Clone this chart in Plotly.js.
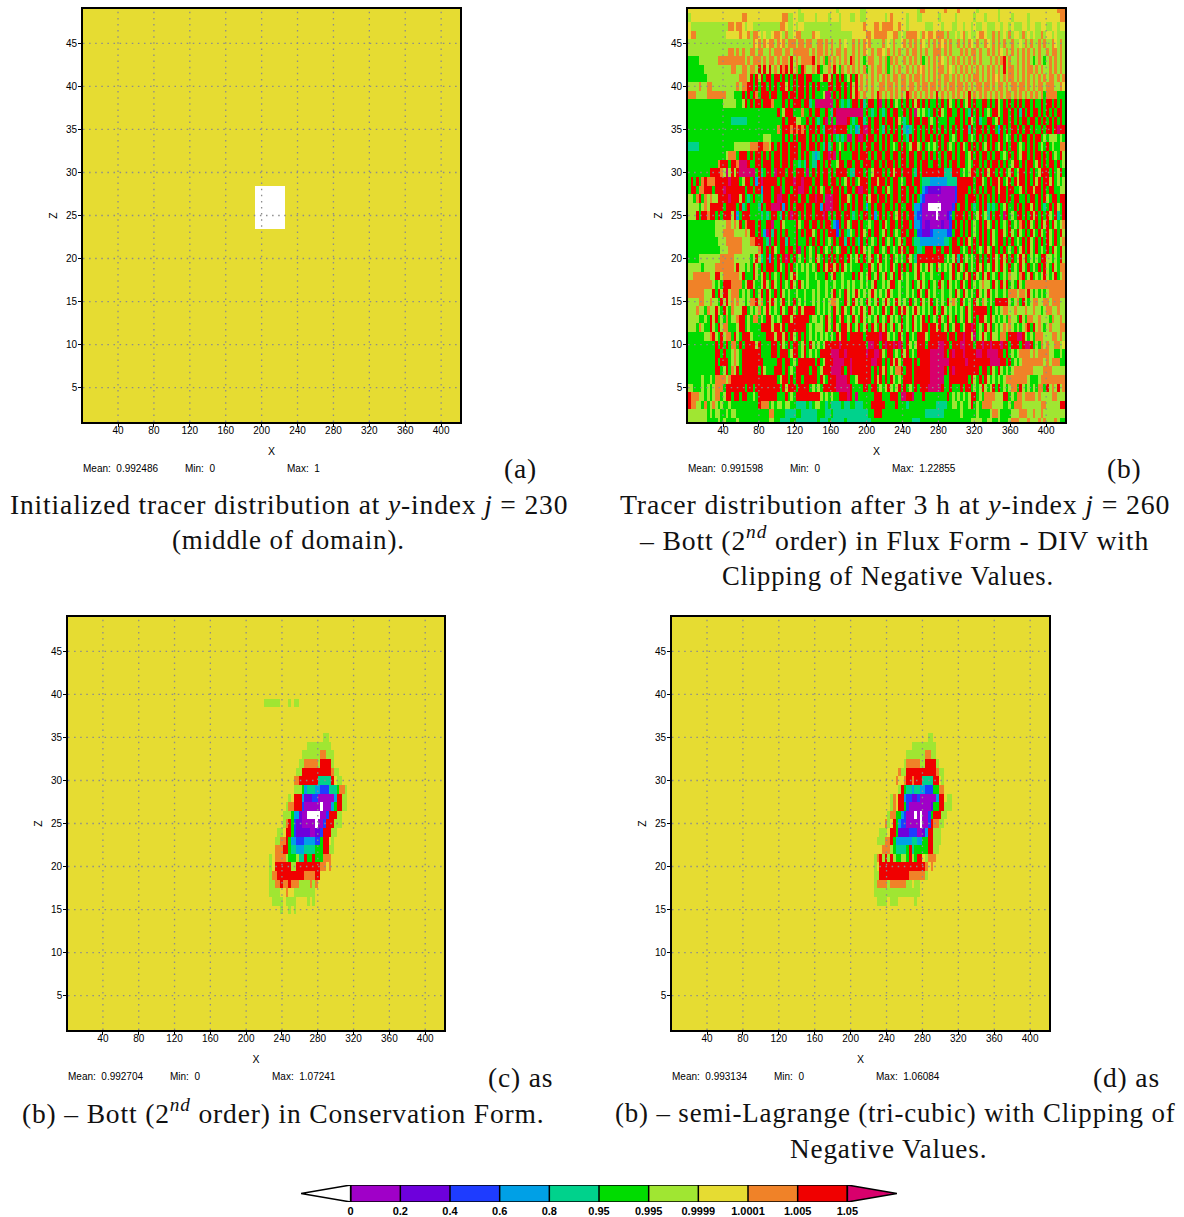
<!DOCTYPE html>
<html><head><meta charset="utf-8">
<script src="https://cdn.plot.ly/plotly-3.0.1.min.js"></script>
<style>html,body{margin:0;padding:0;background:#fff}
text[style*="Liberation Serif"]{letter-spacing:0.85px}</style></head>
<body><div id="chart" style="width:1184px;height:1217px"></div>
<script>
const categoryLetters = ['w','a','b','c','d','e','f','g','h','i','j','k'];
const categoryColors = ['#ffffff','#a000c8','#6e00dc','#1e3cff','#00a0e6','#00d28c','#00dc00','#a0e632','#e6dc32','#f08228','#f00000','#d8006c'];
const colorbarTickLabels = ['0','0.2','0.4','0.6','0.8','0.95','0.995','0.9999','1.0001','1.005','1.05'];
const colorbarCells = [1,2,3,4,5,6,7,8,9,10];
const xTickVals = [40,80,120,160,200,240,280,320,360,400];
const zTickVals = [5,10,15,20,25,30,35,40,45];

const panelAWhiteZ = [24,25,26,27,28];
const panelAWhiteRows = ['wwwww wwwww w','wwwww wwwww w','wwwww wwwww w','wwwww wwwww w','wwwww wwwww w'];

// panel (b): top row is z=49, each letter 3 x-units wide
const panelBRows = [
"hhhhhhhhhh hhhhhhhhhh hhhhhhhhhh hhhhhhhhhh hghhhhhhhh hhhhhghhhh hhhhgghhhh hhhhhhhhhh hhhhhgiihh hhhhhihhhh ihhhhhhghh hhhhhghhhh hhhhhhhhhh hhhhhhhiii",
"ghhhhhhhhh hhhhhhhhhh iihhhhhhhh hhhhhiigghh gghhhhghhh hghhhghhhg ghhgghhhhh hhghihhhhh ghhhgghhhh hhghhhhhgh hhhhhghhhg hhhhghhhhg hhhhhghhhh hhhhhhhiii",
"hgggggggggg ggggiihiihg hhggggggg gggiihgghg hhgggggggg gggggghhhh hhhhihhhii hiiiihhihh ghhhhhhggg hhhghhhggh hghhghgghh ggghhghhgh ggghhghhgg hhgghhghhh",
"hiigggggggg ggghhhhhih higiihghg ghiihgiggh iiggggihhg ggggggggg gghhhhhiih iiiiihhiig hgiiiihgih iihiiigigg hghighgghi ihggigighg ighhgighgh ggighhghgg",
"gggggggggg gggggggggg ggggihigih iigihigiii giigiiggii gigiggighg gigigihigg ggighgiggh igigigihgi gigihigigg igigihgigg ihgigigigg igghgigigg igiggihgig",
"gggggggggg gggggiigig iggiigiigg igiiigiigi iiiiigigii gigigiigig gigigihgig iihgigigig gigiigigig giiigigigg gigigiigig gigigihgig igigigigig iggigiigig",
"ffffgggggg giiiiiiiii igigiiigig iigigiigjg igiiiijgig ifigigigig jigigfgiig gigifigigg igigigifgi gigihgigig igigigigig ggigigijgi ggigigigfg igfgigigig",
"ffffffggggg gggggiiggi igiigjgjgj gigjijgjgi fjiggigjfg gigjgfigig igigifgigi igifgigigg igigihigig igiigihgig igigigigig igigigjgii gigigiigig iggigigigf",
"fffffffggg gggggggggi iigjfjgjfj jfjjfjfjfj fjjfjjfffg jjgjfjfjfg jfjgigigig igigigiigi igigiigigi gigigiigig igigigiigi gigihigigi igigigigig igigiigigi",
"ggggiggiig ggggggggig iijjfjfjjf jfjfjjgjfj fjjfjfjfjf ffjjfjjfjf jgjgigigig giigiigigi igiigigiig iigigigiig iigigigiig iigigiigig iigiigigig iigiiiggih",
"iiiggggiii iiiigggfff jfjfjifjjj fjjffjjfjj fjjfjfjfff gkkfjfjfjf jgjigiggig jigigigigi gjigigigig igjgigigig igigjgigig igigigigii gigigigigi gifiiiifff",
"ffffffffff fffgggggff gjfjfjjfjj jifffjfjfj jjfjjefkkk kkkkfjfefe fjjfjefjjf jkfjfjfgfj fjfjgjfjfj ffjfjfjgfj fjfgjfjffj jfjfjgfjfj fjfjfjjfjf fjfjjfjfjf",
"ffffffffff ffffffffff ffffffffff fffjfgjjjf ffiffjfjjf fjfejkkkkk kkkkkfjfef jfefjfjjff jfjfkgfgfe fjfjgfjjff jfjfejfjfj fgfjjgfjjf jfjejfjfjj fjfjfjfjjf",
"ffffffffff ffffffeeee eeffffffff fffffjfjjj ggffjfjfef jkfkfkkkkj fefjjefjfj jfjfjjfjgf efjfjjfjjf gfjfffjffj jfjfjgfjef fjjfgjfjjf jfjfjjfjjf jfjfjfjfjf",
"ffffffffff ffffffffff ffffffffff fffifjjjij ijijfjjfjf ejjjkjjjjf efdejkkjfj jfejfjfjfj edefjfjfjf jfjfjfjfjf jfjjejfjjf jfjjfdjfjf jjfjfjjfjf fjfjjfjkjj",
"ffffffffff ffffffffff ffffffffgg gffffjfjfj fjjjfjfjfj fjfjfefefk kfjkkjfjjf jfjfjfjjfj fejfjfjfjj fjfjfjjfgf jfjjfgfjfj fjfjjfjfgf jfjfjjfjfj jfgfgggfgf",
"eeeeffffff fffffffggg gggiiijjii gjfjfjjfjj jfjjfjjfjf ejefjfgfjf jfjfjfjjfj jfjfjfgfjf jfgjjgfjfg fgfjfjfgfj fjgfjfjfjf gjfjfgjfjf jjfgfjfjfj fgfjfgffii",
"ffffffffff ffffgiiifj jjfjfjjfjf jfjjfjjfjj jfjfjfedef jjkjkfjfff fjjfjjjfjf jjfjjfjjfj jfjjfjjfjf jfjfjfjjfj fjjfgjfjfj jfjfjjfgfj fjfgjjfjfj jfjfjfgfjg",
"ffffffffff fijjjfjjik kkjffjjfjj jfjjfjjfjf fefejfeejf jfjffgjjfj jfjjfjjjfj jfjfjjfjfj jfjjfjfjjf fjjfjfjfjj fjjfgfjjfj fjfjjfjfjf gjjfjfjjfg jfjfjjfjfg",
"ffffffffjj jjigkgjgjk kkkkkfjefj jfkjjjfjjf jjjfkfjfjf jjfjfjjjjf eejjjfjfgj jjfjfjgjjf jjjfejfjjj jjjjjeeejj jfgfgjjfjf jgjjfjfjfg jfgjjfjfjf gjjjfjfgjf",
"fjfjfijiii jjjjjkjjjf gjjfjdjkjj jjjfjfjjjk jjkjjjfjjf jjfjjfjfgj fjfgjjjfjj gjjfjfjjfg fjjfjjfeee ddddddeeee jjjjjjfjjg fjfjjgjfgj fjgjjfjfjg jfjjgjfgfg",
"fjjfiijjjf jjjkjjjjjj jfjjfjjdjj jfjjkfjjfj jkkjjfjfjg fjjfjjfjfj jfjkkjjfjf jjfjgfjjfj jfjjfjfdcb bbbbaaaaac jjjjfjfjfj fjjfjgjjfj jffgjfjjgj jfjfjjffgg",
"ggfijfigig gjjjjkjjjg jfefjffejj jfjkkjjfjj jfjjfjjkjj fkkkjjfjjg fjfjjfjgjj fjjfjfjjfj jfjfjfdcaa aaaaaaaaac jjjfjjjfjf jfjfjfjjfj fjjffjfjjf jfjgfjjfjj",
"ggggfgigjj jjjfjjjjfj efjfffejfj jkkkjdjfjf jjjfjjfjjd jkkkjjfjfj fjfjjfdfjf jjfjjfjfjf fjjfddcaaw wwwwaaaacj fjjfjfefjf jefefjfgjf fjfjfjjgjf jfefjfjgfj",
"gggjfjjijj fjfjjjgjdf jjjffffefe fjjfejfjkj jfjfjjfjjj kjfjfjjfjj fefjfjjfjd fjfjfjfgjf jfjjdccaaa aawaaabcfj jjfjfjfgjf gejfjjfkjf gfjjfjfjgj fjfjgfjefj",
"ffffffffff ggggiigigj fijjjfjffj jkffjgffff jgfjjfjjfj fjjfdcjfjg fjjfjffgfj jfjgfjjfjf jjfjddcabb aaaabaacjf jfjfjfgfjf jgfjfjfgfj fgfijfjgfj fjgjfjgfgi",
"ffffffffff gggiiiiggg gigjjfjfdk jejfjfjfff jfjfjjgfjf jfjjjcfjfe gfjfjgfjfj jfgjfjfgfj jfjjfccbbb cdddddccfj jfjfjfgfjf jfjgfjjgfj gfjgfjfjgf jgfjgfjfjg",
"ffffffffff fgggiiiiii gggiijjjfe kfjfjjejff jfffjfjfjf jfgfjfjjej fjfejfjfgf jfjfgfjfgj fjjfeedddd dddddeefjj fjfjgfjfjf jfjgfjjfjf jfgfjfjgfj fjfjgfjfgi",
"ffffffffff ffgggiiiii ggggggijfj fjgfjjfjjf jkfjfgfjfj fgfjfgfjjf jfjfjgfgfj jfgfjfgfjg jfjjfeefjj jfjjfjjfjj jfgfjfjfgf jgfjfjfjfg fjfgjfjgfj fgfjfjgfjg",
"ffffgggggg ggiiiiiggg gggfgjgefj djfjfjkjfj fgfjfgfjgf jfjfjfjjfj gfgjfjfgjf gjfgfjfgfg fjgfejjjjj jjjjjfgfgj ejfgfgfjfj fjfjgfjgjf jfgjgjfgfg fjjggfgfjg",
"gggggfgggg iiiiiiigjg gfgfjgfjfj jjfjgfjfjf gfgfgfgfjf jgjjgjfjgf gfffjffjgf jgfgfjgfjf jfjfgjgfgj gfjgfgfgjf jgfjfgfjgj fgfjgfjgfj fgfjgfjfgf jfjgfjgfii",
"ggiiiiiigg jjgiiiiiig jfffjgfgjf jfgfjfjfgj gfffgffgff fjfgjffgff fjfjgfgjfg jfgjfgjfjg fgffgjfgff gfffjffgjf gfjgjfjgfj gjfgfjfgfi ggfijfgjfg fgjgfgjfgi",
"iiiiiiiiig fgfjjjiiii fgjjgffgjg fjgfjfgfjg fjgfgfffgf fgffgffgfg fgffgfgfgj ffgfgjjfgf fgfjfgjgfj fgfjgfjgfg fjgfjfgfgi ggfjgfjgjf gfjgfiiiii iiiiiiiiii",
"iiiiiigggj fjgjjgiiif gfgfjfgjfj gfjfjgfgff gffgffgfgf fgfgjfgfjg fgjgfgfgjg fgfgjgffgf fgfgfjgfjg fgffgffgfj gfjgfgfjgf gjgfgffgfi iigiigjgfg fgfgiiiiii",
"ggggiiggig gfjgjgigig gfgiijgifj gjgfgjfgfj fgfgffgfgf gfgiigffjg fjgfgfjgfg jfgjgfgjgf gfjfgfjgfg jfgfgfjgig fjgfgfjgfi gfgfjjjjjg fgifjgfgii ggiigiiigg",
"gggiggfigg jgfjgfiggg jjfgfgifgj gfgfjgfjjg fjgjjjjfgf gfgfjgfjgf jgfgjgfjgf gfjgfjgfjg jgfgjgfgfg fjgfjgfgfg fgfjgfjjjj jfjfgfgiig gigggiggig gfgiiggigg",
"ggggffgfjg jfgfifggij jfgfiifgfj jgfgfjjjgj jjjjjfggfg fjgfjfgjfg fjgfjgfgfg jfgfjgfgfj fgfjgfgjfj fgfjgfjgfj fgfjgfjfjj gfjgfgfgfi ggfjgfiigg igggfiggig",
"gggfigffjg fjgiifffgj jfgffffjjj jgjjgjfjjj jjjjfgfggg fjgfjgfjjg jfgjfgjfjg fjgjfgjfgj fgfjgfgjjf jjgjfgjfgj jfgjjkjfgf jgjfgfgigi gfgfgijfjg igfgigggii",
"ffffffggij gfjgiifjgf jjjgfffffj jjgjjgjfjg fjfjfgfgfg fgfgfjgjjf jjjjjfjjjj jkjjgfgfjg fjfgfjjjgf jjjjjjfjjf jjkjjgkfgj gfjggfiifj jjkkjgfgfi iigggiigig",
"ffffffffff jfjfjfiifj fjjjjgjfff fjjfjgfjfj jfgjfjgfgf gjjjjjkjjj jjjjjjfkkj jfjkjjkjkj fjgfgjjjfj jjjkkjjfjj jkkjjjfjjk jjkjjjkjjf jjjfjkkjfg figiggiigh",
"ffffffffff jjfjffgigf jjjjjjjfff fjjfjjjfgj jfgjfgfgfj jjjkkkjjkj jjjjjjkjjk kjgfjjfgfj gjfgfjjjjj kkkkkjfjkj jjkjjjjkkj jkkkkjjfjf gfgiiiigig iiiiggffgf",
"ffffffffff jfjjjfgigf jjjjjjjjff fffjjfjjfg fjjjjjjfjf gjjjkkkkjj kjjjjjjjkk jjfjfjgjgf jjjfjfjjjj kkkkkkkjjj jjjkjjjjjj jjkkkkjjfj fgfgiiiiii iigigiiiff",
"ffffffffff jjfgjfigjf jjjjjjfjgf ffjjjfjfgf jjjjjfjjfg jjjkkkkjfj kjjjjjjjfj fjgjfgfiij fjjfjjjjjj kkkkkjfjkj jjjjjjjjfj jfjgfjgfgf giiiiiiigg ggiiiggggg",
"fffffgffgf iiiigijjjj jjjjjjjjjj jjjfgjjfjf jjfjjjjjfj gfjjjkkkkj ffgjjjjjfj gjfjfjgfgf jjjfjjjjjj kkkkkffjjj jjjjfjgfjf jgfgfgfgii iiiiiigfff giiiiiiiii",
"ggfffgfgfg iiifjjjjjj jfjjfjjjjj jjjjfjgjjj fjjjjfgfgf jjjjjkkkkk jffffjjfjj fgfgjgfgjf jfgfjfjjjk kkkkjffjff fjfjjfgfgj gfgjfjfgfg iifjgfgfgf iifjgigjgi",
"jiiiggfgfg iifgjjfjjf jjffgfjjjj jjjfffjfgf jjjjjjjjjg fgfgffjjjk jfkffffffj jjfffjjjfk kjjkfffjff ffffffjfgf gfgfgjjfgf iiiigggjjf gfiigiiiig iggggiiggg",
"jiiggfifgi gfgffgffff ffffffjiii fgfggfggff eeeefefggf fefeeeefee ffeeefffjj jjjffffjff feffffffff ffeeeeffgg fgffgjfgfi iiiggggffg fiiigggggg giigggggjj",
"gggggggfgf ggffgfggff ffffffffff iiffffeeee ffeeeeeeff feefeeeeee eeeeeeeffj jjffffffff ffffffffee eeeeefffff fgfffffgff ffgiigffff gggiiiggig gigggggggg",
"gggggggfff fgfgffffgf ffffffffff ggffeeeeff eeeeeeeefe eefeeeeefe eeeeeeeeff ffffffffff fffeeeffff ffffffffff fffffggggf fggffgfffg iiigggiggg igigggigff"
];

// panels (c) and (d): each letter 3 x-units wide starting at x=220
const panelCZ = [39,35,34,33,32,31,30,29,28,27,26,25,24,23,22,21,20,19,18,17,16,15];
const panelCRows = [
"gggggghhhghgg",
"hh hhhhh hhhhh hhhhh hhhhh gg",
"hh hhhhh hhhhh hhhhg ggggg ggg",
"hh hhhhh hhhhh hhggg ggggi iggg",
"hh hhhhh hhhhh hggii iiigj jjjg",
"hh hhhhh hhhhh ggjjj jjjjj jjjig g",
"hh hhhhh hhhhi ijjjj jjjee eeejh gg",
"hh hhhhh hhhhg ggfde eeddc cceee fiig",
"hh hhhhh hhghj jjdbb bccaa aaaad jjggh h",
"hh hhhhh hgiij jjcaa aaaaw aaadf jjgg",
"hh hhhhh gggfd dbaaw wwwwa acjjj gg",
"hh hhhhh gijfc bbaaa aawaa cjjjg gg",
"hh hhhgg hjjfc bbbbb aabbc jjjgg",
"hh hhggi ijfdd cccdd ddccf jjhg",
"hh hhiii jjfee dddee eefff jjgg",
"hh ghiii igfff geejf fjfff iii",
"hh ghjjj jjjgg jjjjj jjjji ihi",
"hh giijj jjjjj jjjii iijj",
"hh ggiij iijii igggg igi",
"hh ggggh hihhg ggggg gg",
"hh hgggg hgggg hhhhg hg",
"hh hhhhg hhghg"
];
const panelDZ = [35,34,33,32,31,30,29,28,27,26,25,24,23,22,21,20,19,18,17,16];
const panelDRows = [
"hh hhhhh hhhhh hhhhh hhhhh gg",
"hh hhhhh hhhhh hhhhg ggggg ggg",
"hh hhhhh hhhhh hhggg ggggi iggh",
"hh hhhhh hhhhh hgiii iiggj jjjg",
"hh hhhhh hhhhi ggjjj jjjjj jjjig g",
"hh hhhhh hhhih hijji jjjee eejjh g",
"hh hhhhh hhhhg jfeed eeddc ccffi i",
"hh hhhhh hgihj jdccb bcaaa aaadj jhgg",
"hh hhhhh hgihj jfcaa aaaaa abffj jggg",
"hh hhhhh giiff dcaaa wawaa cfjjj gg",
"hh hhhhi ghjfd ccaaa aawaa cjiig g",
"hh hhggg hjjfb bbbcc caabd jjggg",
"hh hgggi ijfdd dddde eddff jjggg",
"hh hhhii igfee eefje fffff jjgg",
"hh gijgj gjgff ggfjg fjjhg iii",
"hh ghjjj jjjjj jjjjj jjjji hi",
"hh ggjjj jjjjj jjjii iiiig",
"hh giiii giiii iiggh gg",
"hh ggggg ggggg ggggg gg",
"hh hgggg hgggh hhhhh g"
];

const panelStats = [
  {mean:'0.992486',min:'0',max:'1'},
  {mean:'0.991598',min:'0',max:'1.22855'},
  {mean:'0.992704',min:'0',max:'1.07241'},
  {mean:'0.993134',min:'0',max:'1.06084'}
];
const W=1184,H=1217;
const X0=1,X1=421,Z0=1,Z1=49;
const boxes=[[82,8,461,423],[687,8,1066,423],[67,616,445,1031],[671,616,1050,1031]];
const idx=c=>categoryLetters.indexOf(c);
const clean=s=>s.replace(/ /g,'');
function cellCenters(w,n){return Array.from({length:n},(_,i)=>X0+w*(i+0.5));}
const zRows=Array.from({length:Z1-Z0+1},(_,i)=>Z0+i);
function overlayGrid(origin,zs,rows){
  const g=zRows.map(()=>new Array(140).fill(idx('h')));
  zs.forEach((z,i)=>{
    const start=Math.round((origin-X0)/3);
    [...clean(rows[i])].forEach((c,j)=>{g[z-Z0][start+j]=idx(c);});
  });
  return g;
}
const bGrid=panelBRows.slice().reverse().map(r=>{
  const a=[...clean(r)].map(idx);
  while(a.length<140)a.push(a[a.length-1]);
  return a.slice(0,140);
});
const n=categoryColors.length;
const cs=[];categoryColors.forEach((c,i)=>{cs.push([i/n,c]);cs.push([(i+1)/n,c]);});
const grids=[
 {z:overlayGrid(193,panelAWhiteZ,panelAWhiteRows)},
 {z:bGrid},
 {z:overlayGrid(220,panelCZ,panelCRows)},
 {z:overlayGrid(220,panelDZ,panelDRows)}
];
const xCenters=cellCenters(3,140);
const data=[],shapes=[],annotations=[];
const sans='Liberation Sans, Arial, sans-serif';
const layout={width:W,height:H,margin:{l:0,r:0,t:0,b:0},paper_bgcolor:'#fff',plot_bgcolor:'#fff',showlegend:false,
  font:{family:sans,color:'#000',size:10}};
const tickFont={family:sans,size:10,color:'#000'};
const dot={color:'#8c8c8c',width:1.3,dash:'1.5px,4.6px'};
boxes.forEach((b,i)=>{
  const s=i===0?'':String(i+1);
  data.push({type:'heatmap',x:xCenters,y:zRows,z:grids[i].z,zmin:-0.5,zmax:n-0.5,colorscale:cs,showscale:false,hoverinfo:'skip',xaxis:'x'+s,yaxis:'y'+s});
  layout['xaxis'+s]={domain:[(b[0]+1)/W,(b[2]-1)/W],range:[X0,X1],anchor:'y'+s,tickmode:'array',tickvals:xTickVals,ticktext:xTickVals.map(String),
    ticks:'outside',ticklen:3,tickwidth:1,tickcolor:'#000',showgrid:false,zeroline:false,showline:true,mirror:true,linecolor:'#000',linewidth:1.6,tickfont:tickFont,ticklabelstandoff:-5,
    title:{text:'X',font:{family:sans,size:10.5},standoff:13}};
  layout['yaxis'+s]={domain:[1-(b[3]-1)/H,1-(b[1]+1)/H],range:[Z0,Z1],anchor:'x'+s,tickmode:'array',tickvals:zTickVals,ticktext:zTickVals.map(String),
    ticks:'outside',ticklen:3,tickwidth:1,tickcolor:'#000',showgrid:false,zeroline:false,showline:true,mirror:true,linecolor:'#000',linewidth:1.6,tickfont:tickFont,ticklabelstandoff:-1,
    title:{text:'Z',font:{family:sans,size:10.5},standoff:6}};
  xTickVals.forEach(v=>shapes.push({type:'line',xref:'x'+s,yref:'y'+s,x0:v,x1:v,y0:Z0,y1:Z1,line:dot,layer:'above'}));
  zTickVals.forEach(v=>shapes.push({type:'line',xref:'x'+s,yref:'y'+s,x0:X0,x1:X1,y0:v,y1:v,line:dot,layer:'above'}));
  const sy=b[3]+45;
  const st=panelStats[i];
  [['Mean:  '+st.mean,-1],['Min:  '+st.min,101],['Max:  '+st.max,203]].forEach(([t,dx])=>{
    annotations.push({xref:'paper',yref:'paper',x:(b[0]+dx)/W,y:1-sy/H,text:t,showarrow:false,xanchor:'left',yanchor:'middle',font:{size:10,family:sans}});
  });
});
// colorbar subplot
const cb=[301,1185,897,1202];
data.push({type:'heatmap',x:colorbarCells.map(v=>v-0.5),y:[0.5],z:[colorbarCells],zmin:-0.5,zmax:n-0.5,colorscale:cs,showscale:false,hoverinfo:'skip',xaxis:'x5',yaxis:'y5'});
data.push({type:'scatter',mode:'lines',x:[-1,0,0,-1],y:[0.5,1,0,0.5],fill:'toself',fillcolor:categoryColors[0],line:{color:'#000',width:1.5},hoverinfo:'skip',xaxis:'x5',yaxis:'y5'});
data.push({type:'scatter',mode:'lines',x:[11,10,10,11],y:[0.5,1,0,0.5],fill:'toself',fillcolor:categoryColors[11],line:{color:'#000',width:1.5},hoverinfo:'skip',xaxis:'x5',yaxis:'y5'});
colorbarTickLabels.forEach((_,i)=>shapes.push({type:'line',xref:'x5',yref:'y5',x0:i,x1:i,y0:0,y1:1,line:{color:'#000',width:1.5},layer:'above'}));
[0,1].forEach(v=>shapes.push({type:'line',xref:'x5',yref:'y5',x0:0,x1:10,y0:v,y1:v,line:{color:'#000',width:1.5},layer:'above'}));
layout.xaxis5={domain:[cb[0]/W,cb[2]/W],range:[-1,11],anchor:'y5',tickmode:'array',tickvals:colorbarTickLabels.map((_,i)=>i),ticktext:colorbarTickLabels,
  ticks:'',showgrid:false,zeroline:false,showline:false,tickfont:{family:sans,size:11,color:'#000',weight:600},ticklabelstandoff:1};
layout.yaxis5={domain:[1-cb[3]/H,1-cb[1]/H],range:[0,1],anchor:'x5',visible:false};

// captions
const serif='Liberation Serif, Times New Roman, serif';
const captions=[
 ['(a)',539,468,'right',27.5],
 ['Initialized tracer distribution at <i>y</i>-index <i>j</i> = 230',288.5,504,'center',27.5],
 ['(middle of domain).',288.5,540,'center',27],
 ['(b)',1144,468,'right',27.5],
 ['Tracer distribution after 3 h at <i>y</i>-index <i>j</i> = 260',894.5,504,'center',27.8],
 ['– Bott (2<sup><i>nd</i></sup> order) in Flux Form - DIV with',894,538,'center',27.7],
 ['Clipping of Negative Values.',888,576,'center',26.6],
 ['(c) as',555,1077,'right',27.5],
 ['(b) – Bott (2<sup><i>nd</i></sup> order) in Conservation Form.',283,1111,'center',27.5],
 ['(d) as',1162,1077,'right',27.5],
 ['(b) – semi-Lagrange (tri-cubic) with Clipping of',895,1113,'center',26.9],
 ['Negative Values.',888.5,1149,'center',27.2]
];
captions.forEach(([t,x,y,a,sz])=>annotations.push({xref:'paper',yref:'paper',x:x/W,y:1-y/H,text:t,showarrow:false,xanchor:a,yanchor:'middle',font:{family:serif,size:sz,color:'#111'}}));
layout.shapes=shapes;layout.annotations=annotations;
Plotly.newPlot('chart',data,layout,{displayModeBar:false});
</script></body></html>
